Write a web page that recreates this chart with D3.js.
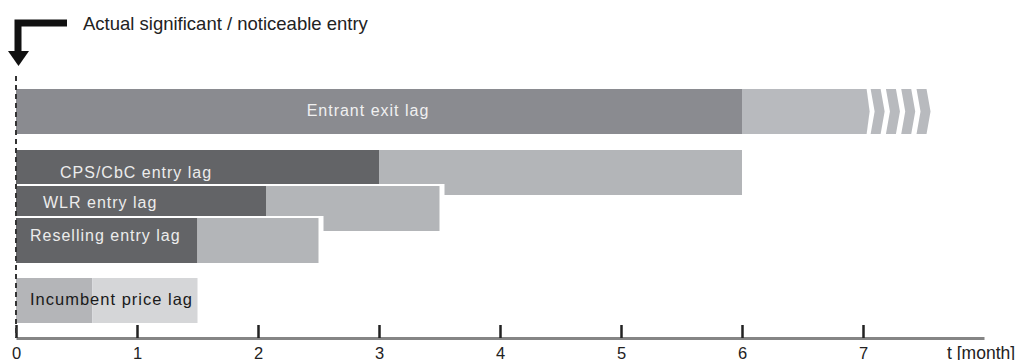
<!DOCTYPE html>
<html>
<head>
<meta charset="utf-8">
<script src="https://cdn.jsdelivr.net/npm/d3@7"></script>
<style>
  body { margin: 0; background: #fff; }
  svg { display: block; }
  text { font-family: "Liberation Sans", Arial, sans-serif; }
</style>
</head>
<body>
<div id="chart"></div>
<script>
// lag names, top to bottom
const lagNames = ['Entrant exit lag', 'CPS/CbC entry lag', 'WLR entry lag', 'Reselling entry lag', 'Incumbent price lag'];
// month where the dark (certain) part of each lag ends
const firmEnd = [6, 3, 2.07, 1.5, 0.63];
// month where the whole lag ends
const lagEnd = [7.03, 6, 3.5, 2.5, 1.5];
const monthTicks = [0, 1, 2, 3, 4, 5, 6, 7];
const axisLabel = 't [month]';
const entryNote = 'Actual significant / noticeable entry';

const width = 1020;
const height = 360;
const axisY = 338;
const barH = 45;

const darkFill = ['#8a8b90', '#636467', '#636467', '#636467', '#b4b5b8'];
const lightFill = ['#b8babe', '#b3b5b8', '#b3b5b8', '#b3b5b8', '#d5d6d8'];
const labelFill = ['#f0f0f0', '#ececec', '#ececec', '#ececec', '#1a1a1a'];
const labelSize = ['16px', '16px', '16px', '16px', '16.5px'];
const labelDx = [null, 44, 27, 14, 14];
const labelDy = [27, 28, 22, 23, 27];

const svg = d3.select('#chart')
  .append('svg')
  .attr('width', width)
  .attr('height', height);

const x = d3.scaleLinear().domain([0, 8]).range([16, 984]);
const y = d3.scaleOrdinal().domain(lagNames).range([89, 150, 186, 218, 278]);

// bars
const rows = svg.selectAll('.lag')
  .data(lagNames)
  .enter()
  .append('g')
  .attr('class', 'lag');

// white outline behind each bar so it stands out from the one above
rows.append('rect')
  .attr('x', x(0))
  .attr('y', d => y(d) - 2)
  .attr('width', (d, i) => x(lagEnd[i]) - x(0) + 5)
  .attr('height', barH + 2)
  .attr('fill', '#fff');

rows.append('rect')
  .attr('x', x(0))
  .attr('y', d => y(d))
  .attr('width', (d, i) => x(firmEnd[i]) - x(0))
  .attr('height', barH)
  .attr('fill', (d, i) => darkFill[i]);

rows.each(function (d, i) {
  const g = d3.select(this);
  const top = y(d);
  const x0 = x(firmEnd[i]);
  const x1 = x(lagEnd[i]);
  if (i === 0) {
    // open ended: pointed end plus chevrons
    const tip = 3;
    g.append('path')
      .attr('d', `M${x0},${top}H${x1}L${x1 + tip},${top + barH / 2}L${x1},${top + barH}H${x0}Z`)
      .attr('fill', lightFill[i]);
    const step = 15.3, w = 14, dep = 4;
    d3.range(4).forEach(k => {
      const l = x1 + 4 + k * step;
      const r = l + w;
      g.append('path')
        .attr('d', `M${l},${top}H${r - dep}L${r},${top + barH / 2}L${r - dep},${top + barH}H${l}L${l + dep},${top + barH / 2}Z`)
        .attr('fill', lightFill[i]);
    });
  } else {
    g.append('rect')
      .attr('x', x0)
      .attr('y', top)
      .attr('width', x1 - x0)
      .attr('height', barH)
      .attr('fill', lightFill[i]);
  }
});

rows.append('text')
  .attr('x', (d, i) => i === 0 ? (x(0) + x(firmEnd[0])) / 2 - 11 : x(0) + labelDx[i])
  .attr('y', (d, i) => y(d) + labelDy[i])
  .attr('text-anchor', (d, i) => i === 0 ? 'middle' : 'start')
  .attr('fill', (d, i) => labelFill[i])
  .style('font-size', (d, i) => labelSize[i])
  .style('letter-spacing', '1px')
  .text(d => d);

// axis
const xAxis = d3.axisBottom(x)
  .tickValues(monthTicks)
  .tickFormat(d3.format('d'))
  .tickSizeInner(-13)
  .tickSizeOuter(0)
  .tickPadding(9);

const axisG = svg.append('g')
  .attr('transform', `translate(0,${axisY})`)
  .call(xAxis);

axisG.select('.domain').attr('stroke', '#858585').attr('stroke-width', 3);
axisG.selectAll('.tick line').attr('stroke', '#222').attr('stroke-width', 2.5);
axisG.selectAll('.tick text')
  .attr('fill', '#222')
  .style('font-family', '"Liberation Sans", Arial, sans-serif')
  .style('font-size', '16.5px');

svg.append('text')
  .attr('x', 947)
  .attr('y', axisY + 20.5)
  .attr('fill', '#222')
  .style('font-size', '17.5px')
  .text(axisLabel);

// entry marker: dashed line at t = 0 and the bent arrow
svg.append('line')
  .attr('x1', x(0))
  .attr('x2', x(0))
  .attr('y1', 76)
  .attr('y2', axisY)
  .attr('stroke', '#333')
  .attr('stroke-width', 2)
  .attr('stroke-dasharray', '5,4');

svg.append('path')
  .attr('d', `M${x(0) + 51},23H${x(0) + 2}V54`)
  .attr('fill', 'none')
  .attr('stroke', '#111')
  .attr('stroke-width', 7);

svg.append('path')
  .attr('d', `M${x(0) - 8},51L${x(0) + 13},51L${x(0) + 2.5},66Z`)
  .attr('fill', '#111');

svg.append('text')
  .attr('x', 83)
  .attr('y', 30)
  .attr('fill', '#222')
  .style('font-size', '18.5px')
  .text(entryNote);
</script>
</body>
</html>
